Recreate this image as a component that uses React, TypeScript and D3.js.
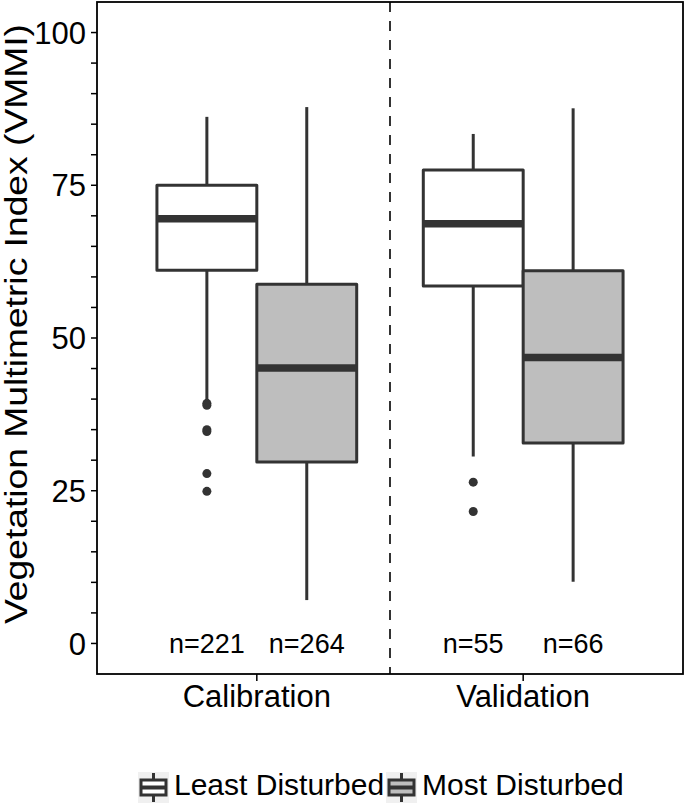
import React from "react";
import * as d3 from "d3";

// ---- data ----
const categories = ["Calibration", "Validation"];
const groups = ["Least Disturbed", "Most Disturbed"];
const groupFills = ["#ffffff", "#bebebe"];

const boxCategory = ["Calibration", "Calibration", "Validation", "Validation"];
const boxGroup = ["Least Disturbed", "Most Disturbed", "Least Disturbed", "Most Disturbed"];
const whiskerLow = [40.0, 7.1, 30.6, 10.1];
const q1 = [61.1, 29.7, 58.5, 32.8];
const median = [69.5, 45.1, 68.7, 46.8];
const q3 = [75.0, 58.8, 77.5, 61.0];
const whiskerHigh = [86.2, 87.8, 83.4, 87.6];
const outliers = [[39.3, 39.0, 35.0, 34.7, 27.8, 24.9], [], [26.4, 21.6], []];
const sampleLabels = ["n=221", "n=264", "n=55", "n=66"];

const yMajorTicks = [0, 25, 50, 75, 100];
const yAllTicks = d3.range(0, 101, 5);

// ---- layout ----
const W = 685, H = 805;
const panel = { left: 97, right: 683, top: 2, bottom: 674 };
const FONT = "'Liberation Sans', Arial, Helvetica, sans-serif";
const DARK = "#333333";

export default function App() {
  const y = d3.scaleLinear().domain([-5, 105]).range([panel.bottom, panel.top]);
  // discrete x scale: categories at 1..n with 0.6 expansion each side
  const xc = d3.scaleLinear().domain([0.4, categories.length + 0.6]).range([panel.left, panel.right]);
  const catPos = (c: string) => categories.indexOf(c) + 1;
  const dodge = 0.75;
  const boxW = dodge / groups.length;
  const boxCenter = (i: number) => {
    const g = groups.indexOf(boxGroup[i]);
    return catPos(boxCategory[i]) - dodge / 2 + boxW * (g + 0.5);
  };
  const boxPx = xc(1 + boxW) - xc(1);

  return (
    <svg width={W} height={H} style={{ position: "absolute", left: 0, top: 0, background: "#fff" }} fontFamily={FONT}>
      <rect x={0} y={0} width={W} height={H} fill="#fff" />
      {/* dashed separator */}
      <line x1={xc(1.5)} x2={xc(1.5)} y1={panel.top} y2={panel.bottom} stroke="#000" strokeWidth={1.6} strokeDasharray="10,9" />

      {/* boxes */}
      {boxCategory.map((_, i) => {
        const cx = xc(boxCenter(i));
        const x0 = cx - boxPx / 2;
        const fill = groupFills[groups.indexOf(boxGroup[i])];
        return (
          <g key={i}>
            <line x1={cx} x2={cx} y1={y(whiskerHigh[i])} y2={y(q3[i])} stroke={DARK} strokeWidth={3} />
            <line x1={cx} x2={cx} y1={y(q1[i])} y2={y(whiskerLow[i])} stroke={DARK} strokeWidth={3} />
            <rect x={x0} y={y(q3[i])} width={boxPx} height={y(q1[i]) - y(q3[i])} fill={fill} stroke={DARK} strokeWidth={3} strokeLinejoin="round" />
            <line x1={x0} x2={x0 + boxPx} y1={y(median[i])} y2={y(median[i])} stroke={DARK} strokeWidth={7.5} />
            {outliers[i].map((v, k) => (
              <circle key={k} cx={cx} cy={y(v)} r={4.5} fill={DARK} />
            ))}
            <text x={cx} y={y(0)} dy="0.36em" textAnchor="middle" fontSize={27} fill="#000">
              {sampleLabels[i]}
            </text>
          </g>
        );
      })}

      {/* panel border */}
      <rect x={panel.left} y={panel.top} width={panel.right - panel.left} height={panel.bottom - panel.top} fill="none" stroke="#000" strokeWidth={1.8} />

      {/* y axis ticks */}
      {yAllTicks.map((t) => (
        <line key={t} x1={panel.left - 6} x2={panel.left} y1={y(t)} y2={y(t)} stroke="#000" strokeWidth={1.5} />
      ))}
      {yMajorTicks.map((t) => (
        <text key={t} x={86} y={y(t)} dy="0.36em" textAnchor="end" fontSize={31} fill="#000">
          {t}
        </text>
      ))}

      {/* x axis */}
      {categories.map((c) => (
        <g key={c}>
          <line x1={xc(catPos(c))} x2={xc(catPos(c))} y1={panel.bottom} y2={panel.bottom + 7} stroke="#000" strokeWidth={1.5} />
          <text x={xc(catPos(c))} y={707} textAnchor="middle" fontSize={31} fill="#000">
            {c}
          </text>
        </g>
      ))}

      {/* y title */}
      <text
        transform={`translate(27, 324) rotate(-90)`}
        textAnchor="middle"
        fontSize={31}
        textLength={600}
        lengthAdjust="spacingAndGlyphs"
        fill="#000"
      >
        Vegetation Multimetric Index (VMMI)
      </text>

      {/* legend */}
      {groups.map((g, k) => {
        const kx = k === 0 ? 138 : 386;
        const ky = 772;
        const ks = 31;
        const cx = kx + ks / 2;
        return (
          <g key={g}>
            <rect x={kx} y={ky} width={ks} height={ks} fill="#f0f0f0" />
            <line x1={cx} x2={cx} y1={ky + 1} y2={ky + ks - 1} stroke={DARK} strokeWidth={3} />
            <rect x={kx + 3} y={ky + 8} width={ks - 6} height={ks - 16} fill={groupFills[k]} stroke={DARK} strokeWidth={3} />
            <line x1={kx + 3} x2={kx + ks - 3} y1={ky + ks / 2} y2={ky + ks / 2} stroke={DARK} strokeWidth={4} />
            <text x={kx + ks + 5} y={795} fontSize={30} fill="#000">
              {g}
            </text>
          </g>
        );
      })}
    </svg>
  );
}
